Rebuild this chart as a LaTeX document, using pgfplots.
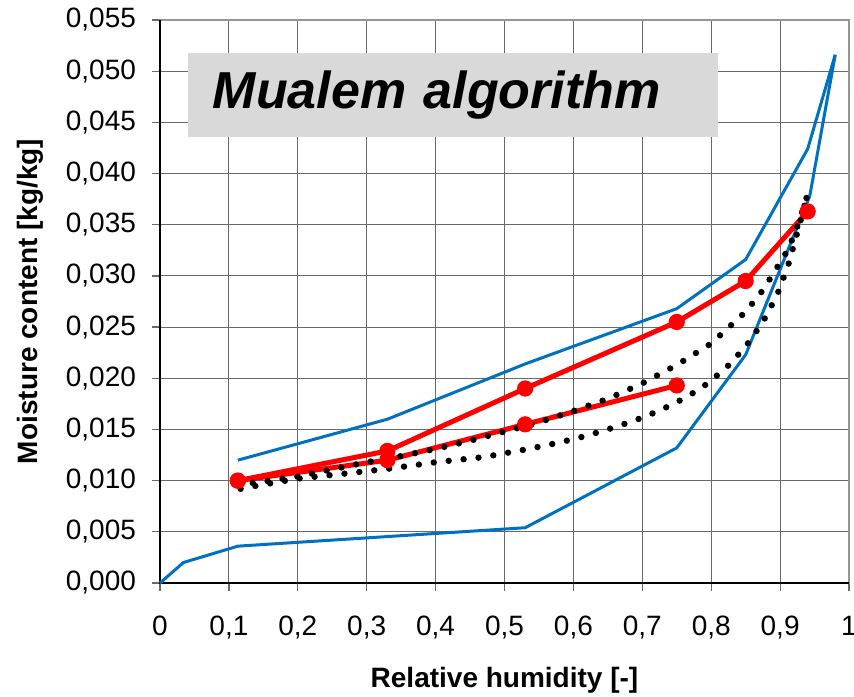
\documentclass[border=0pt]{standalone}
\usepackage{fontspec}
\setmainfont{Liberation Sans}
\usepackage{pgfplots}
\pgfplotsset{compat=1.18}
\usetikzlibrary{calc}
\definecolor{mblue}{RGB}{0,112,192}
\definecolor{mred}{RGB}{255,0,0}
\definecolor{gridc}{RGB}{105,105,105}
\definecolor{boxgray}{RGB}{217,217,217}

\begin{document}
\begin{tikzpicture}
\begin{axis}[
  scale only axis,
  width=344.5pt, height=281.5pt,
  xmin=0, xmax=1, ymin=0, ymax=0.055,
  xtick={0,0.1,0.2,0.3,0.4,0.5,0.6,0.7,0.8,0.9,1},
  ytick={0,0.005,0.01,0.015,0.02,0.025,0.03,0.035,0.04,0.045,0.05,0.055},
  scaled y ticks=false,
  grid=major,
  major grid style={gridc, line width=0.5pt},
  axis line style={gridc!70, line width=0.6pt},
  tick align=outside,
  major tick length=4pt,
  tick style={gridc, line width=0.6pt},
  xtick pos=bottom, ytick pos=left,
  ticklabel style={font=\fontsize{14}{17}\selectfont},
  xticklabel style={yshift=-9pt, /pgf/number format/.cd, assume math mode=true, use comma, fixed},
  yticklabel style={xshift=-4.5pt, /pgf/number format/.cd, assume math mode=true, use comma, fixed, fixed zerofill, precision=3},
  xlabel={Relative humidity [-]},
  ylabel={Moisture content [kg/kg]},
  label style={font=\fontsize{14}{17}\selectfont\bfseries},
  xlabel style={at={(rel axis cs:0.5,0)}, anchor=center, yshift=-48.5pt},
  ylabel style={at={(rel axis cs:0,0.5)}, anchor=center, yshift=65pt},
  clip=false,
]
% black left and bottom axis lines
\draw[black, line width=0.8pt] (rel axis cs:0,1) -- (rel axis cs:0,0) -- (rel axis cs:1,0);
\coordinate (bl) at (rel axis cs:0,0);
\coordinate (tr) at (rel axis cs:1,1);

% envelope curves (blue)
\addplot[mblue, line width=1.5pt, line join=round] coordinates {
  (0,0) (0.034,0.0020) (0.113,0.0036) (0.53,0.0054) (0.75,0.0132)
  (0.85,0.0223) (0.943,0.0378) (0.98,0.0516)};
\addplot[mblue, line width=1.5pt, line join=round] coordinates {
  (0.113,0.0120) (0.33,0.0160) (0.53,0.0214) (0.75,0.0268)
  (0.85,0.0316) (0.94,0.0424) (0.98,0.0516)};

% measured (red)
\addplot[mred, line width=2.5pt, mark=*, mark size=3.8pt, mark options={fill=mred, draw=mred, line width=0.5pt}] coordinates {
  (0.113,0.0100) (0.33,0.0129) (0.53,0.0190) (0.75,0.0255) (0.85,0.0295) (0.94,0.0363)};
\addplot[mred, line width=2.5pt, mark=*, mark size=3.8pt, mark options={fill=mred, draw=mred, line width=0.5pt}] coordinates {
  (0.113,0.0100) (0.33,0.0120) (0.53,0.0155) (0.75,0.0193)};

% Mualem model (black dotted)
\addplot[black, line width=3.2pt, line cap=round, dash pattern=on 0pt off 7.5pt] coordinates {
  (0.113,0.0096) (0.15,0.0099) (0.2,0.0104) (0.25,0.0111) (0.3,0.0118)
  (0.35,0.0124) (0.4,0.0131) (0.45,0.0139) (0.5,0.0148) (0.55,0.0157)
  (0.6,0.0168) (0.65,0.0180) (0.7,0.0195) (0.75,0.0213) (0.8,0.0234)
  (0.85,0.0265) (0.875,0.0286) (0.9,0.0313) (0.91,0.0324) (0.92,0.0339)
  (0.93,0.0358) (0.94,0.0380)};
\addplot[black, line width=3.2pt, line cap=round, dash pattern=on 0pt off 7.5pt] coordinates {
  (0.117,0.0092) (0.14,0.0095) (0.2,0.0102) (0.27,0.0107) (0.336,0.0112)
  (0.4,0.0118) (0.47,0.0123) (0.535,0.0131) (0.578,0.0137) (0.62,0.0144)
  (0.664,0.0153) (0.706,0.0163) (0.746,0.0175) (0.785,0.0190) (0.82,0.0209)
  (0.85,0.0231) (0.875,0.0255) (0.896,0.0282) (0.912,0.0311) (0.926,0.0345)
  (0.94,0.0380)};

% title box
\node[fill=boxgray, inner xsep=12.5pt, inner ysep=0pt, minimum height=42pt,
      text width=240pt, align=left,
      font=\fontsize{26}{30}\selectfont\bfseries\itshape]
  at (axis cs:0.425,0.0477) {Mualem algorithm};
\end{axis}
\pgfresetboundingbox
\path[use as bounding box] ($(bl)+(-80pt,-56.5pt)$) rectangle ($(tr)+(2.5pt,10pt)$);
\end{tikzpicture}
\end{document}
